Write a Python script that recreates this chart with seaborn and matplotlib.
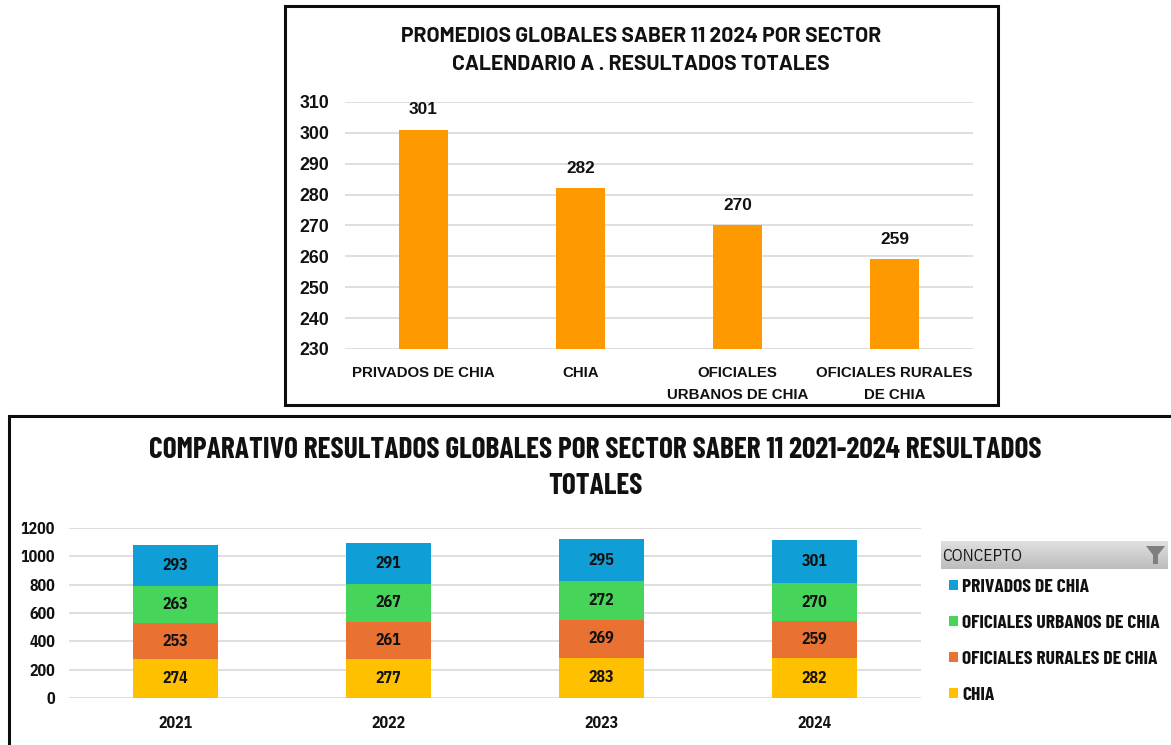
import numpy as np
import seaborn as sns
import matplotlib.pyplot as plt
from matplotlib.patches import Rectangle, Polygon

W, H = 1171, 745

# top chart
sectores = ["PRIVADOS DE CHIA", "CHIA", "OFICIALES\nURBANOS DE CHIA", "OFICIALES RURALES\nDE CHIA"]
promedios = [301, 282, 270, 259]
ticks_top = [230, 240, 250, 260, 270, 280, 290, 300, 310]

# bottom chart
anios = ["2021", "2022", "2023", "2024"]
chia = [274, 277, 283, 282]
rurales = [253, 261, 269, 259]
urbanos = [263, 267, 272, 270]
privados = [293, 291, 295, 301]
ticks_bottom = [0, 200, 400, 600, 800, 1000, 1200]

NARROW = ["IBM Plex Sans Condensed", "Barlow Semi Condensed", "Asap Condensed", "Liberation Sans"]
TIGHT = ["Barlow Condensed", "Asap Condensed", "Liberation Sans"]
TITLE = ["Barlow", "Liberation Sans"]
INK = "#111111"


def box(x0, y0, x1, y1):
    # pixel box (origin top left) to figure fractions
    return [x0 / W, 1 - y1 / H, (x1 - x0) / W, (y1 - y0) / H]


sns.set_theme(style="white")
plt.rcParams["font.family"] = ["Liberation Sans", "DejaVu Sans"]
plt.rcParams["patch.linewidth"] = 0
fig = plt.figure(figsize=(W / 100, H / 100), dpi=100)

# frames around both charts
fig.add_artist(Rectangle((285 / W, 1 - 405 / H), 713 / W, 399 / H, transform=fig.transFigure,
                         fill=False, edgecolor="#0d0d0d", linewidth=2.2))
fig.add_artist(Rectangle((9 / W, -0.02), 1.1, 1 - 416 / H + 0.02, transform=fig.transFigure,
                         fill=False, edgecolor="#0d0d0d", linewidth=2.2))

# ---- top chart
ax1 = fig.add_axes(box(345, 102, 973, 349))
sns.barplot(x=sectores, y=promedios, color="#FF9900", saturation=1, width=0.315, linewidth=0, ax=ax1)
ax1.set_ylim(230, 310)
ax1.set_yticks(ticks_top)
ax1.grid(axis="y", color="#d9d9d9", linewidth=1.2)
ax1.set_axisbelow(True)
ax1.tick_params(axis="y", length=0, pad=11.5, labelsize=12.8, labelcolor=INK)
ax1.tick_params(axis="x", length=0, pad=12.5, labelsize=10.8, labelcolor=INK)
for lab in ax1.get_yticklabels() + ax1.get_xticklabels():
    lab.set_fontweight("bold")
for lab in ax1.get_xticklabels():
    lab.set_linespacing(1.65)
for spine in ax1.spines.values():
    spine.set_visible(False)
ax1.bar_label(ax1.containers[0], padding=9, fontsize=12.4, fontweight="bold", color=INK)

fig.text(641 / W, 1 - 37 / H, "PROMEDIOS GLOBALES SABER 11 2024 POR SECTOR", ha="center", va="center",
         fontsize=15.2, fontweight="bold", family=TITLE, color=INK)
fig.text(641 / W, 1 - 65 / H, "CALENDARIO A . RESULTADOS TOTALES", ha="center", va="center",
         fontsize=15.2, fontweight="bold", family=TITLE, color=INK)

# ---- bottom chart
ax2 = fig.add_axes(box(69, 528, 921, 698))
series = [("CHIA", chia, "#FFC000"),
          ("OFICIALES RURALES DE CHIA", rurales, "#E97132"),
          ("OFICIALES URBANOS DE CHIA", urbanos, "#47D45A"),
          ("PRIVADOS DE CHIA", privados, "#0F9ED5")]
base = np.zeros(len(anios))
for name, vals, col in series:
    sns.barplot(x=anios, y=vals, bottom=base, color=col, saturation=1, width=0.4, label=name,
                linewidth=0, legend=False, ax=ax2)
    base = base + np.array(vals)
for cont in ax2.containers:
    ax2.bar_label(cont, label_type="center", fontsize=11.5, fontweight="bold", family=NARROW, color=INK)
ax2.set_ylim(0, 1200)
ax2.set_yticks(ticks_bottom)
ax2.grid(axis="y", color="#d9d9d9", linewidth=1.2)
ax2.set_axisbelow(True)
ax2.tick_params(axis="y", length=0, pad=10, labelsize=11.5, labelcolor=INK)
ax2.tick_params(axis="x", length=0, pad=13, labelsize=11.5, labelcolor=INK)
for lab in ax2.get_yticklabels() + ax2.get_xticklabels():
    lab.set_fontweight("bold")
    lab.set_family(NARROW)
for spine in ax2.spines.values():
    spine.set_visible(False)

fig.text(595 / W, 1 - 450 / H, "COMPARATIVO RESULTADOS GLOBALES POR SECTOR SABER 11 2021-2024 RESULTADOS",
         ha="center", va="center", fontsize=21.25, fontweight="bold", family=TIGHT, color=INK)
fig.text(595 / W, 1 - 486 / H, "TOTALES", ha="center", va="center", fontsize=21.25, fontweight="bold",
         family=TIGHT, color=INK)

# legend of the bottom chart, top row first
handles, labels = ax2.get_legend_handles_labels()
leg = fig.legend(handles[::-1], labels[::-1], loc="upper left", bbox_to_anchor=(949 / W, 1 - 579 / H),
                 frameon=False, ncol=1, labelspacing=0.97, handlelength=0.47, handleheight=0.47,
                 handletextpad=0.2, borderpad=0, borderaxespad=0,
                 prop={"family": TIGHT, "weight": "bold", "size": 14.1})
for t in leg.get_texts():
    t.set_color(INK)

# slicer header with filter icon
head = fig.add_axes(box(941, 541, 1168, 569))
head.imshow(np.linspace(0.88, 0.74, 28).reshape(-1, 1), cmap="gray", vmin=0, vmax=1, aspect="auto",
            extent=(941, 1168, 569, 541))
head.add_patch(Polygon([[1146, 546], [1165, 546], [1158, 555], [1158, 564], [1153, 564], [1153, 555]],
                       closed=True, color="#7f7f7f"))
head.text(942, 556, "CONCEPTO", va="center", ha="left", fontsize=12.5, family=NARROW, color="#1a1a1a")
head.set_xlim(941, 1168)
head.set_ylim(569, 541)
head.axis("off")

fig.savefig("out.png", dpi=100)
